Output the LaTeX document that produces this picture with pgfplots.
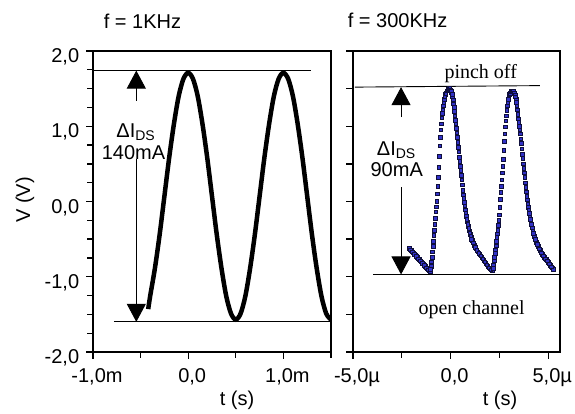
\documentclass[border=0pt]{standalone}
\usepackage{pgfplots}
\pgfplotsset{compat=1.18}
\usepackage{fontspec}
\setmainfont{Liberation Sans}
\newfontfamily\serifont{Liberation Serif}
\usetikzlibrary{arrows.meta}
\definecolor{mkfill}{RGB}{50,50,200}
\definecolor{mkedge}{RGB}{15,15,60}
\tikzset{arr/.style={line width=0.9pt, -{Triangle[width=19pt,length=18pt]}}}
\begin{document}
\fontsize{20}{24}\selectfont
\begin{tikzpicture}
\path[use as bounding box] (0pt,0pt) rectangle (575pt,414pt);
\pgfplotsset{
  myax/.style={
    scale only axis, height=301pt, anchor=south west,
    axis line style={line width=1.6pt},
    every tick/.style={black, line width=1.3pt},
    tick align=outside, xtick pos=bottom, ytick pos=left,
    major tick length=7pt, minor tick length=6pt,
    ymin=-2, ymax=2,
    tick label style={font=\fontsize{20}{24}\selectfont},
    yticklabel style={yshift=-6pt},
    xticklabel style={xshift=4pt, yshift=-3pt},
  },
}
\begin{axis}[myax, at={(93pt,62pt)}, width=238pt,
  xmin=-1, xmax=1.5, xtick={-1,0,1}, xticklabels={{-1,0m},{0,0},{1,0m}},
  minor xtick={-0.5,0.5,1.5},
  ytick={-2,-1,0,1,2}, yticklabels={{-2,0},{-1,0},{0,0},{1,0},{2,0}},
  minor y tick num=3]
\addplot[black, line width=4.5pt, smooth] coordinates {
(-0.42,-1.43) (-0.40,-1.26) (-0.35,-0.89) (-0.30,-0.44) (-0.25,0.07) (-0.20,0.58)
(-0.15,1.03) (-0.10,1.40) (-0.05,1.63) (0,1.71) (0.05,1.63) (0.10,1.40) (0.15,1.03)
(0.20,0.58) (0.25,0.07) (0.30,-0.44) (0.35,-0.89) (0.40,-1.26) (0.45,-1.49) (0.50,-1.57)
(0.55,-1.49) (0.60,-1.26) (0.65,-0.89) (0.70,-0.44) (0.75,0.07) (0.80,0.58) (0.85,1.03)
(0.90,1.40) (0.95,1.63) (1.00,1.71) (1.05,1.63) (1.10,1.40) (1.15,1.03) (1.20,0.58)
(1.25,0.07) (1.30,-0.44) (1.35,-0.89) (1.40,-1.26) (1.45,-1.49) (1.50,-1.57)};
\draw[line width=0.9pt] (axis cs:-1,1.74) -- (axis cs:1.285,1.74);
\draw[line width=0.9pt] (axis cs:-0.78,-1.60) -- (axis cs:1.5,-1.60);
\draw[arr] (axis cs:-0.545,1.34) -- (axis cs:-0.545,1.74);
\draw[arr] (axis cs:-0.545,0.57) -- (axis cs:-0.545,-1.60);
\node[inner sep=0pt] at (axis cs:-0.55,0.92) {ΔI\textsubscript{DS}};
\node[inner sep=0pt] at (axis cs:-0.575,0.65) {140mA};
\end{axis}
\begin{axis}[myax, at={(353pt,62pt)}, width=207pt,
  xmin=-5, xmax=5.6, xtick={-5,0,5}, xticklabels={{-5,0µ},{0,0},{5,0µ}},
  minor xtick={-2.5,2.5},
  ytick={-2,-1.5,-1,-0.5,0,0.5,1,1.5,2}, yticklabels={,,,,,,,,}]
\draw[line width=0.9pt] (axis cs:-4.9,1.52) -- (axis cs:4.57,1.54);
\draw[line width=1.3pt] (axis cs:-3.96,-0.97) -- (axis cs:5.6,-0.97);
\draw[arr] (axis cs:-2.54,1.12) -- (axis cs:-2.54,1.52);
\draw[arr] (axis cs:-2.54,0.19) -- (axis cs:-2.54,-0.97);
\node[inner sep=0pt] at (axis cs:-2.78,0.68) {ΔI\textsubscript{DS}};
\node[inner sep=0pt] at (axis cs:-2.76,0.43) {90mA};
\node at (axis cs:1.54,1.70) {\serifont pinch off};
\node at (axis cs:1.07,-1.44) {\serifont open channel};
\addplot[only marks, mark=square*, mark size=1.8pt, mark options={fill=mkfill, draw=mkedge, line width=0.7pt}] coordinates {
(-2.1,-0.62) (-2.0,-0.65) (-1.9,-0.68) (-1.8,-0.71) (-1.7,-0.74) (-1.6,-0.77) (-1.5,-0.80)
(-1.4,-0.83) (-1.3,-0.86) (-1.2,-0.89) (-1.1,-0.92) (-1.05,-0.93)
(-2.05,-0.64) (-1.95,-0.67) (-1.85,-0.70) (-1.75,-0.73) (-1.65,-0.76) (-1.55,-0.79)
(-1.45,-0.82) (-1.35,-0.85) (-1.25,-0.88) (-1.15,-0.91)
(-1.0,-0.86) (-0.95,-0.74) (-0.9,-0.60) (-0.85,-0.45) (-0.8,-0.30) (-0.75,-0.14) (-0.7,0.00)
(-0.65,0.20) (-0.6,0.45) (-0.55,0.74) (-0.5,0.95) (-0.45,1.11) (-0.4,1.22) (-0.35,1.32)
(-1.025,-0.90) (-0.975,-0.80) (-0.925,-0.67) (-0.875,-0.53) (-0.825,-0.38) (-0.775,-0.22)
(-0.725,-0.07) (-0.675,0.10) (-0.625,0.32) (-0.575,0.60) (-0.525,0.85) (-0.475,1.03)
(-0.425,1.17) (-0.375,1.27) (-0.325,1.36) (-0.275,1.42)
(-0.3,1.40) (-0.25,1.44) (-0.2,1.47) (-0.15,1.49) (-0.1,1.50) (-0.05,1.50) (0.0,1.48)
(0.05,1.45) (0.1,1.39) (0.15,1.30) (0.2,1.20) (0.25,1.08) (0.3,0.97) (0.35,0.85) (0.4,0.72)
(0.45,0.59) (0.5,0.47) (0.55,0.35) (0.6,0.22) (0.65,0.09) (0.7,-0.01) (0.75,-0.11)
(0.025,1.47) (0.075,1.42) (0.125,1.35) (0.175,1.25) (0.225,1.14) (0.275,1.03) (0.325,0.91)
(0.375,0.79) (0.425,0.66) (0.475,0.53) (0.525,0.41) (0.575,0.29) (0.625,0.15) (0.675,0.04)
(0.725,-0.06) (0.775,-0.16)
(0.8,-0.20) (0.85,-0.27) (0.9,-0.33) (0.95,-0.39) (1.0,-0.44) (1.05,-0.48) (1.1,-0.52)
(1.2,-0.58) (1.3,-0.63) (1.4,-0.67) (1.5,-0.70) (1.6,-0.74) (1.7,-0.78) (1.8,-0.82)
(1.9,-0.86) (2.0,-0.89) (2.1,-0.92) (2.15,-0.92)
(0.825,-0.24) (0.875,-0.30) (0.925,-0.36) (0.975,-0.42) (1.025,-0.46) (1.075,-0.50)
(1.15,-0.55) (1.25,-0.61) (1.35,-0.65) (1.45,-0.69) (1.55,-0.72) (1.65,-0.76) (1.75,-0.80)
(1.85,-0.84) (1.95,-0.88) (2.05,-0.91)
(2.2,-0.84) (2.25,-0.74) (2.3,-0.64) (2.35,-0.53) (2.4,-0.43) (2.45,-0.32) (2.5,-0.18)
(2.55,0.03) (2.6,0.20) (2.65,0.38) (2.7,0.56) (2.75,0.80) (2.8,0.99) (2.85,1.14) (2.9,1.27)
(2.175,-0.89) (2.225,-0.79) (2.275,-0.69) (2.325,-0.59) (2.375,-0.48) (2.425,-0.38)
(2.475,-0.25) (2.525,-0.08) (2.575,0.12) (2.625,0.29) (2.675,0.47) (2.725,0.68)
(2.775,0.90) (2.825,1.07) (2.875,1.21) (2.925,1.32) (2.975,1.39)
(2.95,1.36) (3.0,1.42) (3.05,1.44) (3.1,1.46) (3.15,1.47) (3.2,1.46) (3.25,1.44) (3.3,1.41)
(3.35,1.36) (3.4,1.27) (3.45,1.16) (3.5,1.05) (3.55,0.96) (3.6,0.83) (3.65,0.70) (3.7,0.57)
(3.325,1.39) (3.375,1.32) (3.425,1.22) (3.475,1.10) (3.525,1.00) (3.575,0.90) (3.625,0.77)
(3.675,0.63) (3.725,0.50) (3.775,0.38) (3.825,0.25) (3.875,0.13) (3.925,0.02) (3.975,-0.08)
(3.75,0.44) (3.8,0.32) (3.85,0.19) (3.9,0.07) (3.95,-0.03) (4.0,-0.12) (4.05,-0.20)
(4.1,-0.27) (4.15,-0.32) (4.2,-0.37) (4.3,-0.46) (4.4,-0.54) (4.5,-0.60) (4.6,-0.65)
(4.7,-0.70) (4.8,-0.74) (4.9,-0.77) (5.0,-0.81) (5.1,-0.85) (5.2,-0.88) (5.25,-0.90)
(4.025,-0.16) (4.075,-0.24) (4.125,-0.30) (4.175,-0.35) (4.25,-0.42) (4.35,-0.50)
(4.45,-0.57) (4.55,-0.63) (4.65,-0.68) (4.75,-0.72) (4.85,-0.76) (4.95,-0.79) (5.05,-0.83)
(5.15,-0.87)};
\end{axis}
\node[anchor=west] at (97pt,393pt) {f = 1KHz};
\node[anchor=west] at (341pt,394pt) {f = 300KHz};
\node[rotate=90] at (25pt,214pt) {V (V)};
\node at (237pt,14pt) {t (s)};
\node at (500pt,14pt) {t (s)};
\end{tikzpicture}
\end{document}
